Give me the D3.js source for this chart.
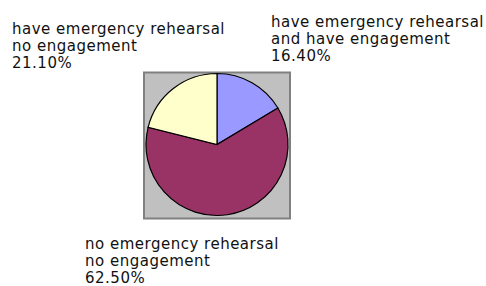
<!DOCTYPE html>
<html>
<head>
<meta charset="utf-8">
<script src="https://cdn.jsdelivr.net/npm/d3@7"></script>
<style>
  body { margin: 0; background: #fff; }
  text { font-family: "DejaVu Sans", sans-serif; font-size: 15px; letter-spacing: 0.5px; fill: #111; }
</style>
</head>
<body>
<div id="chart"></div>
<script>
// categories and their shares, in drawing order (clockwise from 12 o'clock)
let categories = ['have emergency rehearsal and have engagement',
                  'no emergency rehearsal no engagement',
                  'have emergency rehearsal no engagement'];
let values = [16.4, 62.5, 21.1];
let colors = ['#9999ff', '#993366', '#ffffcc'];
let labelLines = [
  ['have emergency rehearsal', 'and have engagement', '16.40%'],
  ['no emergency rehearsal', 'no engagement', '62.50%'],
  ['have emergency rehearsal', 'no engagement', '21.10%']
];

let width = 486, height = 286;
let cx = 217, cy = 144.5, r = 71;

let svg = d3.select('#chart').append('svg')
    .attr('width', width)
    .attr('height', height);

// gray plot area behind the pie
svg.append('rect')
    .attr('x', cx - 73)
    .attr('y', cy - 72)
    .attr('width', 146)
    .attr('height', 146)
    .attr('fill', '#c0c0c0')
    .attr('stroke', '#808080')
    .attr('stroke-width', 2);

let pie = d3.pie().sort(null).value(function(d) { return d; });
let arc = d3.arc().innerRadius(0).outerRadius(r);

let g = svg.append('g')
    .attr('transform', 'translate(' + cx + ',' + cy + ')');

g.selectAll('path')
    .data(pie(values))
  .enter().append('path')
    .attr('d', arc)
    .attr('fill', function(d, i) { return colors[i]; })
    .attr('stroke', '#000')
    .attr('stroke-width', 1.2);

// label anchor positions (left x, first baseline)
let labelPos = [[271, 27], [85, 249], [12, 34]];
let lineH = 16.8;

labelLines.forEach(function(lines, i) {
  let t = svg.append('text')
      .attr('x', labelPos[i][0])
      .attr('y', labelPos[i][1]);
  lines.forEach(function(s, j) {
    t.append('tspan')
        .attr('x', labelPos[i][0])
        .attr('dy', j == 0 ? 0 : lineH)
        .text(s);
  });
});
</script>
</body>
</html>
